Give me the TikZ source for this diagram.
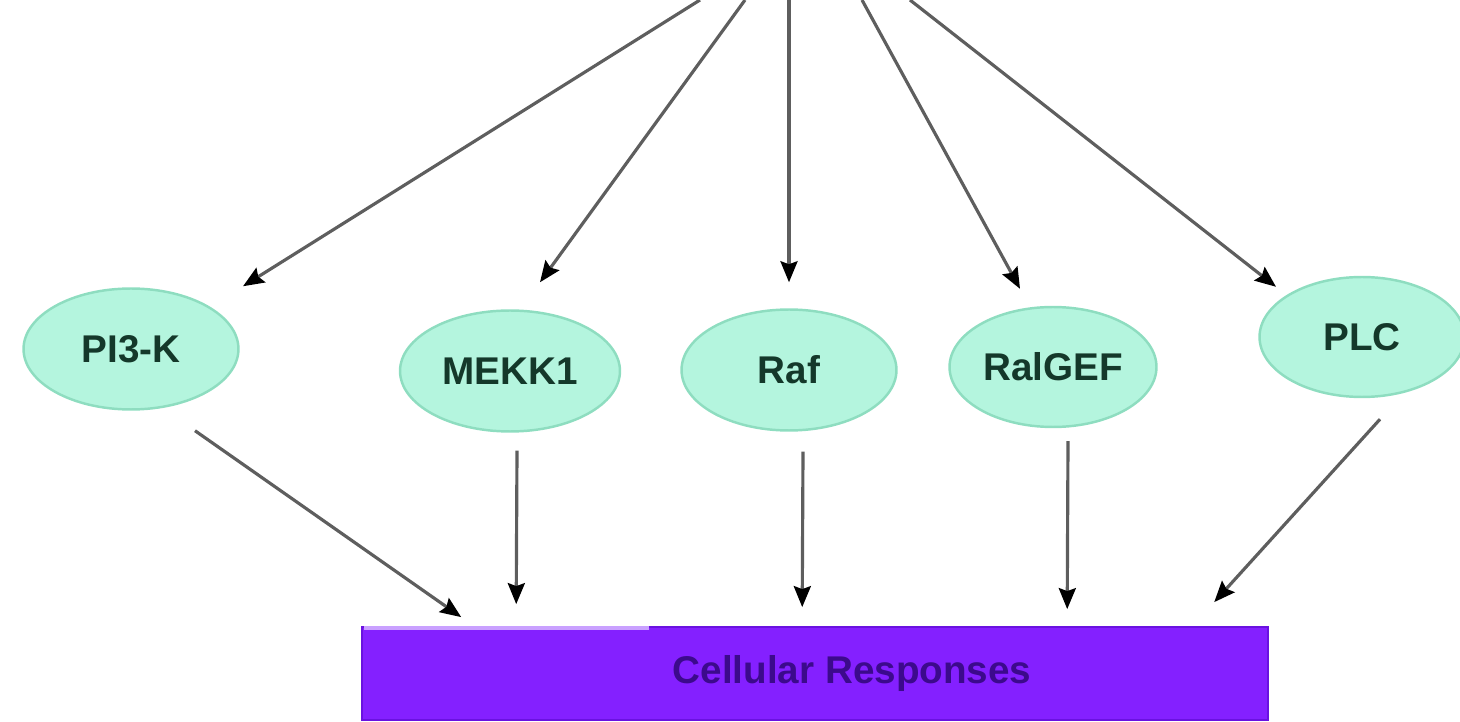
\documentclass[tikz,border=0pt]{standalone}
\usepackage{fontspec}
\setmainfont{Liberation Sans}
\usetikzlibrary{shapes.geometric,arrows.meta,positioning}

\definecolor{mint}{HTML}{B4F5DE}
\definecolor{mintline}{HTML}{8EDDC0}
\definecolor{leaf}{HTML}{14382A}
\definecolor{violet}{HTML}{8420FF}
\definecolor{violetline}{HTML}{6A12E0}
\definecolor{gloss}{HTML}{C9A0FF}
\definecolor{plum}{HTML}{3C0A8C}
\definecolor{wire}{HTML}{5E5E5E}

\begin{document}
\begin{tikzpicture}[
        x=0.02cm, y=-0.02cm,
        effector/.style={ellipse, draw=mintline, line width=1.4pt, fill=mint, text=leaf,
            minimum width=4.3cm, minimum height=2.42cm, inner sep=0pt,
            font=\fontsize{22}{26}\selectfont\bfseries},
        response/.style={rectangle, draw=violetline, line width=1pt, fill=violet,
            minimum width=18.12cm, minimum height=1.86cm, inner sep=0pt},
        arr/.style={draw=wire, line width=1.8pt, -{Stealth[length=0.42cm,width=0.34cm,inset=0.06cm,color=black]}}
    ]
    \useasboundingbox (0,0) rectangle (1460,722);

    % Lines coming in from above
    \coordinate (rasA) at (700,0);
    \coordinate (rasB) at (745,0);
    \coordinate (rasC) at (789,0);
    \coordinate (rasD) at (862,0);
    \coordinate (rasE) at (910,0);

    % Effectors
    \node[effector] (pik) at (131,349) {PI3-K};
    \node[effector, minimum width=4.4cm] (mekk) at (510,371) {MEKK1};
    \node[effector] (raf) at (789,370) {Raf};
    \node[effector, minimum width=4.14cm, minimum height=2.4cm] (ralgef) at (1053,367) {RalGEF};
    \node[effector, minimum width=4.1cm, minimum height=2.4cm] (plc) at (1362,337) {PLC};

    % Output bar
    \node[response, label={[xshift=0.74cm, text=plum, font=\fontsize{22}{26}\selectfont\bfseries]center:Cellular Responses}] (resp) at (815,673.5) {};
    \draw[gloss, line width=2pt] ([shift={(3,2)}]resp.north west) -- ([shift={(288,2)}]resp.north west);

    % Edges in
    \draw[arr] (rasA) -- ([shift={(112,-1)}]pik.north);
    \draw[arr] (rasB) -- ([shift={(30,-27)}]mekk.north);
    \draw[arr] (rasC) -- ([shift={(0,-26)}]raf.north);
    \draw[arr] (rasD) -- ([shift={(-33,-17)}]ralgef.north);
    \draw[arr] (rasE) -- ([shift={(-86,11)}]plc.north);

    % Edges out
    \draw[arr] ([shift={(64,20)}]pik.south) -- ([shift={(100,-9)}]resp.north west);
    \draw[arr] ([shift={(7,18)}]mekk.south) -- ([shift={(155,-22)}]resp.north west);
    \draw[arr] ([shift={(14,20)}]raf.south) -- ([shift={(441,-19)}]resp.north west);
    \draw[arr] ([shift={(15,13)}]ralgef.south) -- ([shift={(706,-17)}]resp.north west);
    \draw[arr] ([shift={(18,21)}]plc.south) -- ([shift={(853,-24)}]resp.north west);

\end{tikzpicture}
\end{document}
